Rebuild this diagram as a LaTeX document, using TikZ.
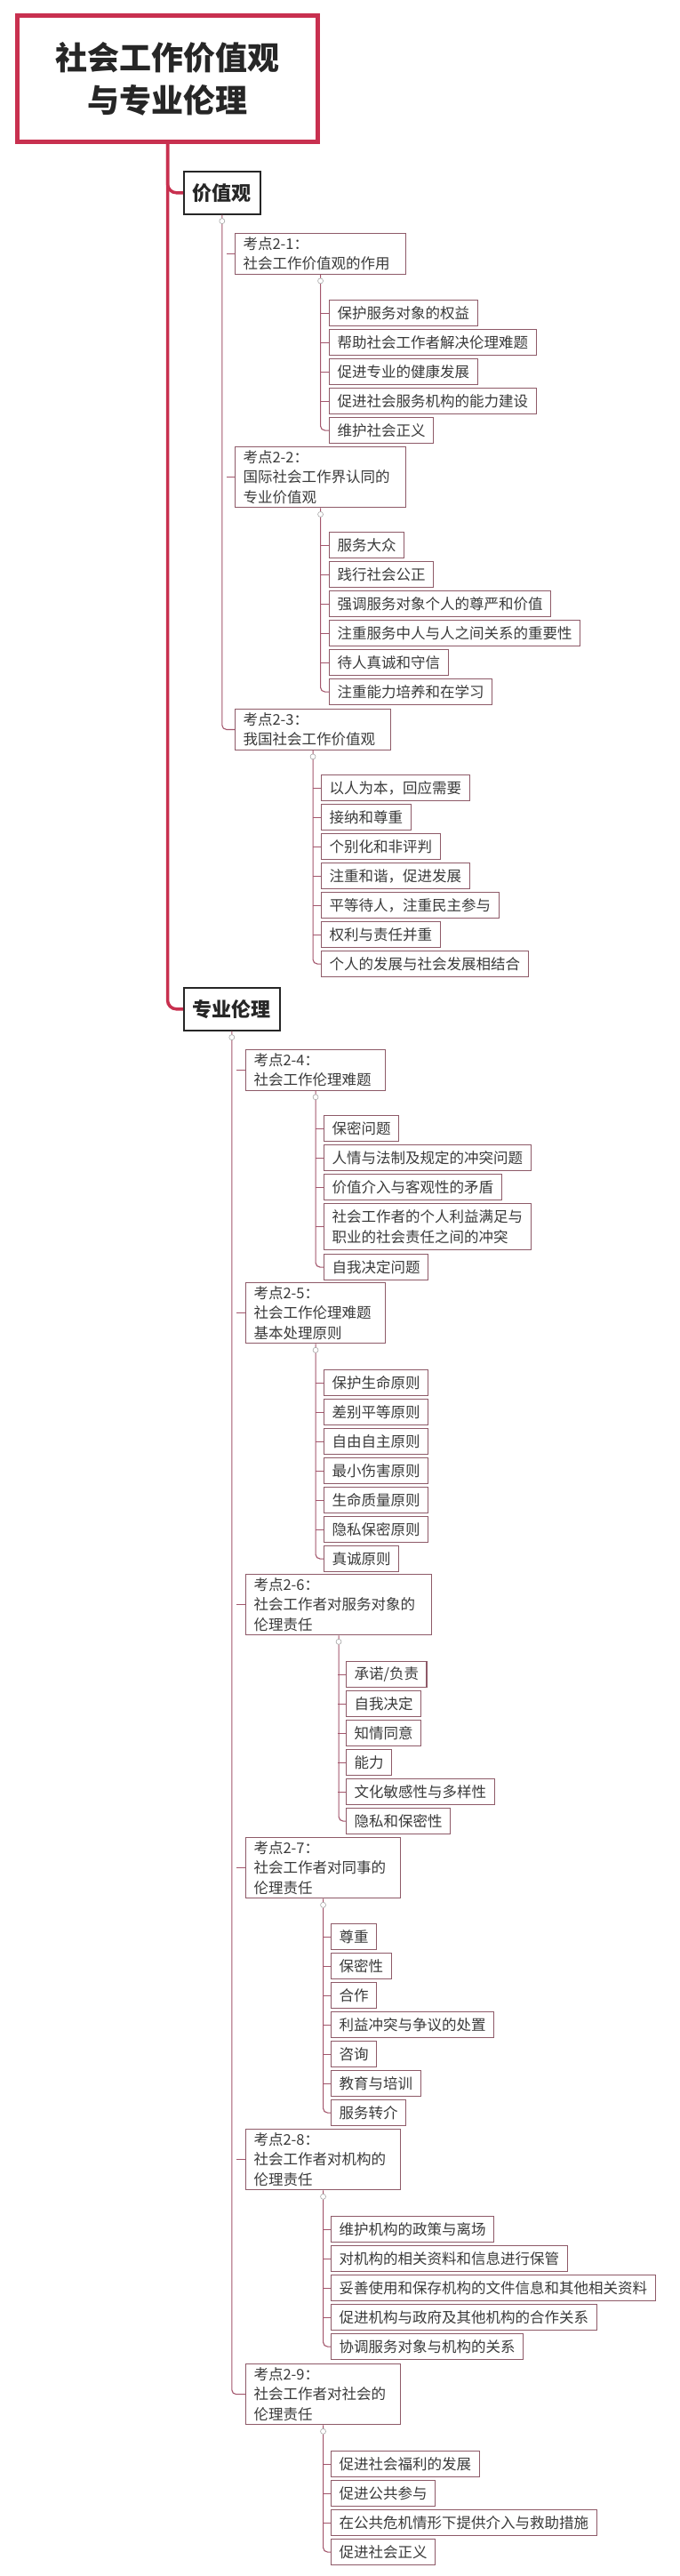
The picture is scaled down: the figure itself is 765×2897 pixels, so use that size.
\documentclass[tikz,border=0pt]{standalone}
\usepackage{fontspec}
\setmainfont{Noto Sans CJK SC}
\begin{document}
\definecolor{trunkred}{HTML}{C8304F}
\definecolor{brline}{HTML}{A3566C}
\definecolor{boxline}{HTML}{8E5A68}
\definecolor{txt}{HTML}{3A3A3A}
\tikzset{x=1pt,y=-1pt,
 leaf/.style={draw=boxline,line width=1.1pt,anchor=north west,minimum height=29pt,inner xsep=9pt,inner ysep=0pt,text=txt,font=\fontsize{16.5}{22}\selectfont},
 kd/.style={draw=boxline,line width=1.1pt,anchor=north west,inner xsep=9pt,inner ysep=4pt,text=txt,align=left,font=\fontsize{16.5}{22.5}\selectfont},
 mainbox/.style={draw=black!85,line width=1.6pt,anchor=north west,minimum height=48pt,inner xsep=10pt,font=\fontsize{22}{26}\selectfont\bfseries,text=black!85},
 br/.style={draw=brline,line width=1.1pt,rounded corners=5pt},
 trunk/.style={draw=trunkred,line width=3.5pt,rounded corners=10pt},
 knob/.style={circle,draw=gray!70,fill=white,inner sep=0pt,minimum size=6pt,line width=0.6pt}}
\begin{tikzpicture}
\useasboundingbox[fill=white] (0,0) rectangle (765,2897);
% title
\node[draw=trunkred,line width=5pt,anchor=north west,minimum width=338pt,minimum height=142pt,align=center,font=\fontsize{36}{48}\selectfont\bfseries,text=black!85] (title) at (17,15) {社会工作价值观\\与专业伦理};
\node[mainbox] (zy) at (206,192) {价值观};
\node[mainbox] (zl) at (206,1110) {专业伦理};
\draw[trunk] (title.south) |- (zy.west);
\draw[trunk] (title.south) |- (zl.west);

% ---- 价值观 ----
\node[kd,text width=174pt] (k1) at (264,262) {考点2-1：\\社会工作价值观的作用};
\node[kd,text width=174pt] (k2) at (264,502) {考点2-2：\\国际社会工作界认同的\\专业价值观};
\node[kd,text width=157pt] (k3) at (264,797) {考点2-3：\\我国社会工作价值观};
\draw[br] (zy.south) |- (k3.west);
\foreach \n in {k1,k2} \draw[br] (k1.west -| zy.south) ++(0,0) (\n.west) -- ++(-9,0);

\node[leaf] (a1) at (370,337) {保护服务对象的权益};
\node[leaf] (a2) at (370,370) {帮助社会工作者解决伦理难题};
\node[leaf] (a3) at (370,403) {促进专业的健康发展};
\node[leaf] (a4) at (370,436) {促进社会服务机构的能力建设};
\node[leaf] (a5) at (370,469) {维护社会正义};
\draw[br] (k1.south) |- (a5.west);
\foreach \n in {a1,a2,a3,a4} \draw[br] (\n.west) -- ++(-9,0);

\node[leaf] (b1) at (370,598) {服务大众};
\node[leaf] (b2) at (370,631) {践行社会公正};
\node[leaf] (b3) at (370,664) {强调服务对象个人的尊严和价值};
\node[leaf] (b4) at (370,697) {注重服务中人与人之间关系的重要性};
\node[leaf] (b5) at (370,730) {待人真诚和守信};
\node[leaf] (b6) at (370,763) {注重能力培养和在学习};
\draw[br] (k2.south) |- (b6.west);
\foreach \n in {b1,b2,b3,b4,b5} \draw[br] (\n.west) -- ++(-9,0);

\node[leaf] (c1) at (361,871) {以人为本，回应需要};
\node[leaf] (c2) at (361,904) {接纳和尊重};
\node[leaf] (c3) at (361,937) {个别化和非评判};
\node[leaf] (c4) at (361,970) {注重和谐，促进发展};
\node[leaf] (c5) at (361,1003) {平等待人，注重民主参与};
\node[leaf] (c6) at (361,1036) {权利与责任并重};
\node[leaf] (c7) at (361,1069) {个人的发展与社会发展相结合};
\draw[br] (k3.south) |- (c7.west);
\foreach \n in {c1,c2,c3,c4,c5,c6} \draw[br] (\n.west) -- ++(-9,0);

% ---- 专业伦理 ----
\node[kd,text width=139pt] (k4) at (276,1180) {考点2-4：\\社会工作伦理难题};
\node[kd,text width=139pt] (k5) at (276,1442) {考点2-5：\\社会工作伦理难题\\基本处理原则};
\node[kd,text width=191pt] (k6) at (276,1770) {考点2-6：\\社会工作者对服务对象的\\伦理责任};
\node[kd,text width=156pt] (k7) at (276,2066) {考点2-7：\\社会工作者对同事的\\伦理责任};
\node[kd,text width=156pt] (k8) at (276,2394) {考点2-8：\\社会工作者对机构的\\伦理责任};
\node[kd,text width=156pt] (k9) at (276,2658) {考点2-9：\\社会工作者对社会的\\伦理责任};
\draw[br] (zl.south) |- (k9.west);
\foreach \n in {k4,k5,k6,k7,k8} \draw[br] (\n.west) -- ++(-10,0);

\node[leaf] (d1) at (364,1254) {保密问题};
\node[leaf] (d2) at (364,1287) {人情与法制及规定的冲突问题};
\node[leaf] (d3) at (364,1320) {价值介入与客观性的矛盾};
\node[leaf,align=left,minimum height=52pt,font=\fontsize{16.5}{23}\selectfont] (d4) at (364,1353) {社会工作者的个人利益满足与\\职业的社会责任之间的冲突};
\node[leaf] (d5) at (364,1410) {自我决定问题};
\draw[br] (k4.south) |- (d5.west);
\foreach \n in {d1,d2,d3,d4} \draw[br] (\n.west) -- ++(-9,0);

\node[leaf] (e1) at (364,1540) {保护生命原则};
\node[leaf] (e2) at (364,1573) {差别平等原则};
\node[leaf] (e3) at (364,1606) {自由自主原则};
\node[leaf] (e4) at (364,1639) {最小伤害原则};
\node[leaf] (e5) at (364,1672) {生命质量原则};
\node[leaf] (e6) at (364,1705) {隐私保密原则};
\node[leaf] (e7) at (364,1738) {真诚原则};
\draw[br] (k5.south) |- (e7.west);
\foreach \n in {e1,e2,e3,e4,e5,e6} \draw[br] (\n.west) -- ++(-9,0);

\node[leaf] (f1) at (389,1868) {承诺/负责};
\node[leaf] (f2) at (389,1901) {自我决定};
\node[leaf] (f3) at (389,1934) {知情同意};
\node[leaf] (f4) at (389,1967) {能力};
\node[leaf] (f5) at (389,2000) {文化敏感性与多样性};
\node[leaf] (f6) at (389,2033) {隐私和保密性};
\draw[br] (k6.south) |- (f6.west);
\foreach \n in {f1,f2,f3,f4,f5} \draw[br] (\n.west) -- ++(-9,0);

\node[leaf] (g1) at (372,2163) {尊重};
\node[leaf] (g2) at (372,2196) {保密性};
\node[leaf] (g3) at (372,2229) {合作};
\node[leaf] (g4) at (372,2262) {利益冲突与争议的处置};
\node[leaf] (g5) at (372,2295) {咨询};
\node[leaf] (g6) at (372,2328) {教育与培训};
\node[leaf] (g7) at (372,2361) {服务转介};
\draw[br] (k7.south) |- (g7.west);
\foreach \n in {g1,g2,g3,g4,g5,g6} \draw[br] (\n.west) -- ++(-9,0);

\node[leaf] (h1) at (372,2492) {维护机构的政策与离场};
\node[leaf] (h2) at (372,2525) {对机构的相关资料和信息进行保管};
\node[leaf] (h3) at (372,2558) {妥善使用和保存机构的文件信息和其他相关资料};
\node[leaf] (h4) at (372,2591) {促进机构与政府及其他机构的合作关系};
\node[leaf] (h5) at (372,2624) {协调服务对象与机构的关系};
\draw[br] (k8.south) |- (h5.west);
\foreach \n in {h1,h2,h3,h4} \draw[br] (\n.west) -- ++(-9,0);

\node[leaf] (i1) at (372,2756) {促进社会福利的发展};
\node[leaf] (i2) at (372,2789) {促进公共参与};
\node[leaf] (i3) at (372,2822) {在公共危机情形下提供介入与救助措施};
\node[leaf] (i4) at (372,2855) {促进社会正义};
\draw[br] (k9.south) |- (i4.west);
\foreach \n in {i1,i2,i3} \draw[br] (\n.west) -- ++(-9,0);

\foreach \n in {zy,zl,k1,k2,k3,k4,k5,k6,k7,k8,k9} \node[knob] at ([yshift=-7pt]\n.south) {};
\end{tikzpicture}
\end{document}
